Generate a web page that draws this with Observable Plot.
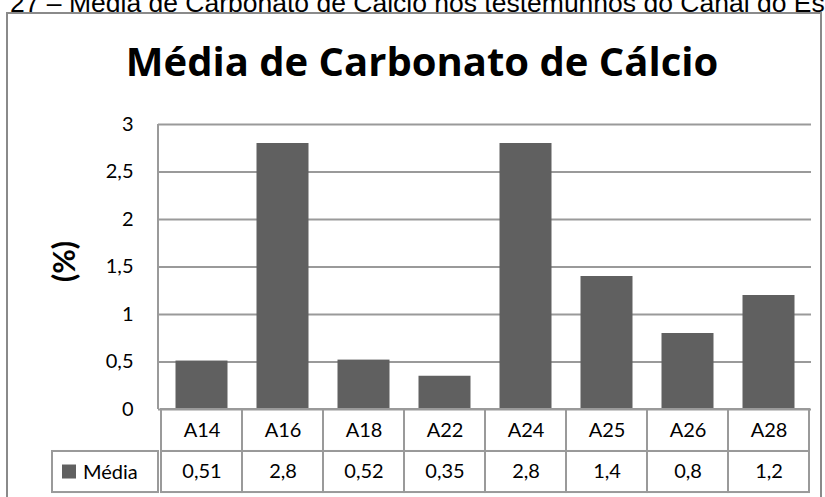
<!DOCTYPE html>
<html>
<head>
<meta charset="utf-8">
<script src="https://cdn.jsdelivr.net/npm/d3@7"></script>
<script src="https://cdn.jsdelivr.net/npm/@observablehq/plot@0.6"></script>
<style>
  html, body { margin: 0; padding: 0; background: #fff; }
  body { width: 825px; height: 497px; position: relative; overflow: hidden; }
  #caption { position: absolute; left: 10px; top: -10px; font-family: "Liberation Sans", Arial, sans-serif; font-size: 26.5px; line-height: 26px; white-space: nowrap; color: #000; }
  #border { position: absolute; left: 6px; top: 12px; width: 816px; height: 500px; border: 2px solid #8a8a8a; box-sizing: border-box; }
  #title { position: absolute; left: 422px; top: 41px; transform: translateX(-50%); font-family: "Open Sans", sans-serif; font-weight: bold; font-size: 40px; line-height: 40px; white-space: nowrap; color: #000; }
  #chart { position: absolute; left: 0; top: 0; }
</style>
</head>
<body>
<div id="caption">27 – Média de Carbonato de Cálcio nos testemunhos do Canal do Espinheiro</div>
<div id="border"></div>
<div id="chart"></div>
<div id="title">Média de Carbonato de Cálcio</div>
<script>
// ---- data ----
const categories = ["A14", "A16", "A18", "A22", "A24", "A25", "A26", "A28"];
const values = [0.51, 2.8, 0.52, 0.35, 2.8, 1.4, 0.8, 1.2];
const yTicks = [0, 0.5, 1, 1.5, 2, 2.5, 3];
const seriesName = "Média";
const yLabel = "(%)";

const data = categories.map((c, i) => ({cat: c, value: values[i]}));
const fmt = v => String(v).replace(".", ",");

// table rows below the axis, expressed in y units
const catRowBottom = -0.442;
const valRowBottom = -0.874;
const catRowMid = catRowBottom / 2;
const valRowMid = (catRowBottom + valRowBottom) / 2;

const gridColor = "#9a9a9a";
const barColor = "#606060";

function legendCell(index, scales, vals, dims) {
  const g = d3.create("svg:g");
  const x1 = dims.marginLeft;
  const x0 = x1 - 106;
  const yTop = scales.y(catRowBottom), yBot = scales.y(valRowBottom);
  const yMid = (yTop + yBot) / 2;
  // left axis line
  g.append("line")
    .attr("x1", x1).attr("x2", x1)
    .attr("y1", scales.y(3)).attr("y2", scales.y(0))
    .attr("stroke", gridColor).attr("stroke-width", 2);
  g.append("rect")
    .attr("x", x0).attr("y", yTop).attr("width", x1 - x0).attr("height", yBot - yTop)
    .attr("fill", "none").attr("stroke", gridColor).attr("stroke-width", 2);
  g.append("rect")
    .attr("x", x0 + 10).attr("y", yMid - 7).attr("width", 14).attr("height", 14)
    .attr("fill", barColor);
  g.append("text")
    .attr("x", x0 + 31).attr("y", yMid).attr("dy", "0.35em")
    .attr("text-anchor", "start")
    .attr("font-size", 20).attr("fill", "#000")
    .text(seriesName);
  return g.node();
}

const chart = Plot.plot({
  width: 825,
  height: 497,
  marginLeft: 158,
  marginRight: 14,
  marginTop: 124,
  marginBottom: 88,
  style: {fontFamily: "Lato, sans-serif", fontSize: "20px", background: "transparent", color: "#000"},
  x: {domain: categories, padding: 0, axis: null},
  y: {domain: [0, 3], axis: null},
  marks: [
    Plot.ruleY(yTicks, {stroke: gridColor, strokeWidth: 2}),
    Plot.barY(data, {x: "cat", y: "value", fill: barColor, insetLeft: 14.5, insetRight: 14.5}),
    Plot.axisY({ticks: yTicks, tickSize: 0, tickPadding: 25, tickFormat: fmt, label: null, fontSize: 20}),
    Plot.text([yLabel], {text: d => d, frameAnchor: "left", dx: -93, dy: 15, rotate: -90, fontWeight: "bold", fontSize: 30}),
    Plot.barY(data, {x: "cat", y1: 0, y2: catRowBottom, fill: "none", stroke: gridColor, strokeWidth: 2}),
    Plot.barY(data, {x: "cat", y1: catRowBottom, y2: valRowBottom, fill: "none", stroke: gridColor, strokeWidth: 2}),
    Plot.text(data, {x: "cat", y: catRowMid, text: "cat", fontSize: 20}),
    Plot.text(data, {x: "cat", y: valRowMid, text: d => fmt(d.value), fontSize: 20}),
    legendCell
  ]
});
document.getElementById("chart").appendChild(chart);
</script>
</body>
</html>
